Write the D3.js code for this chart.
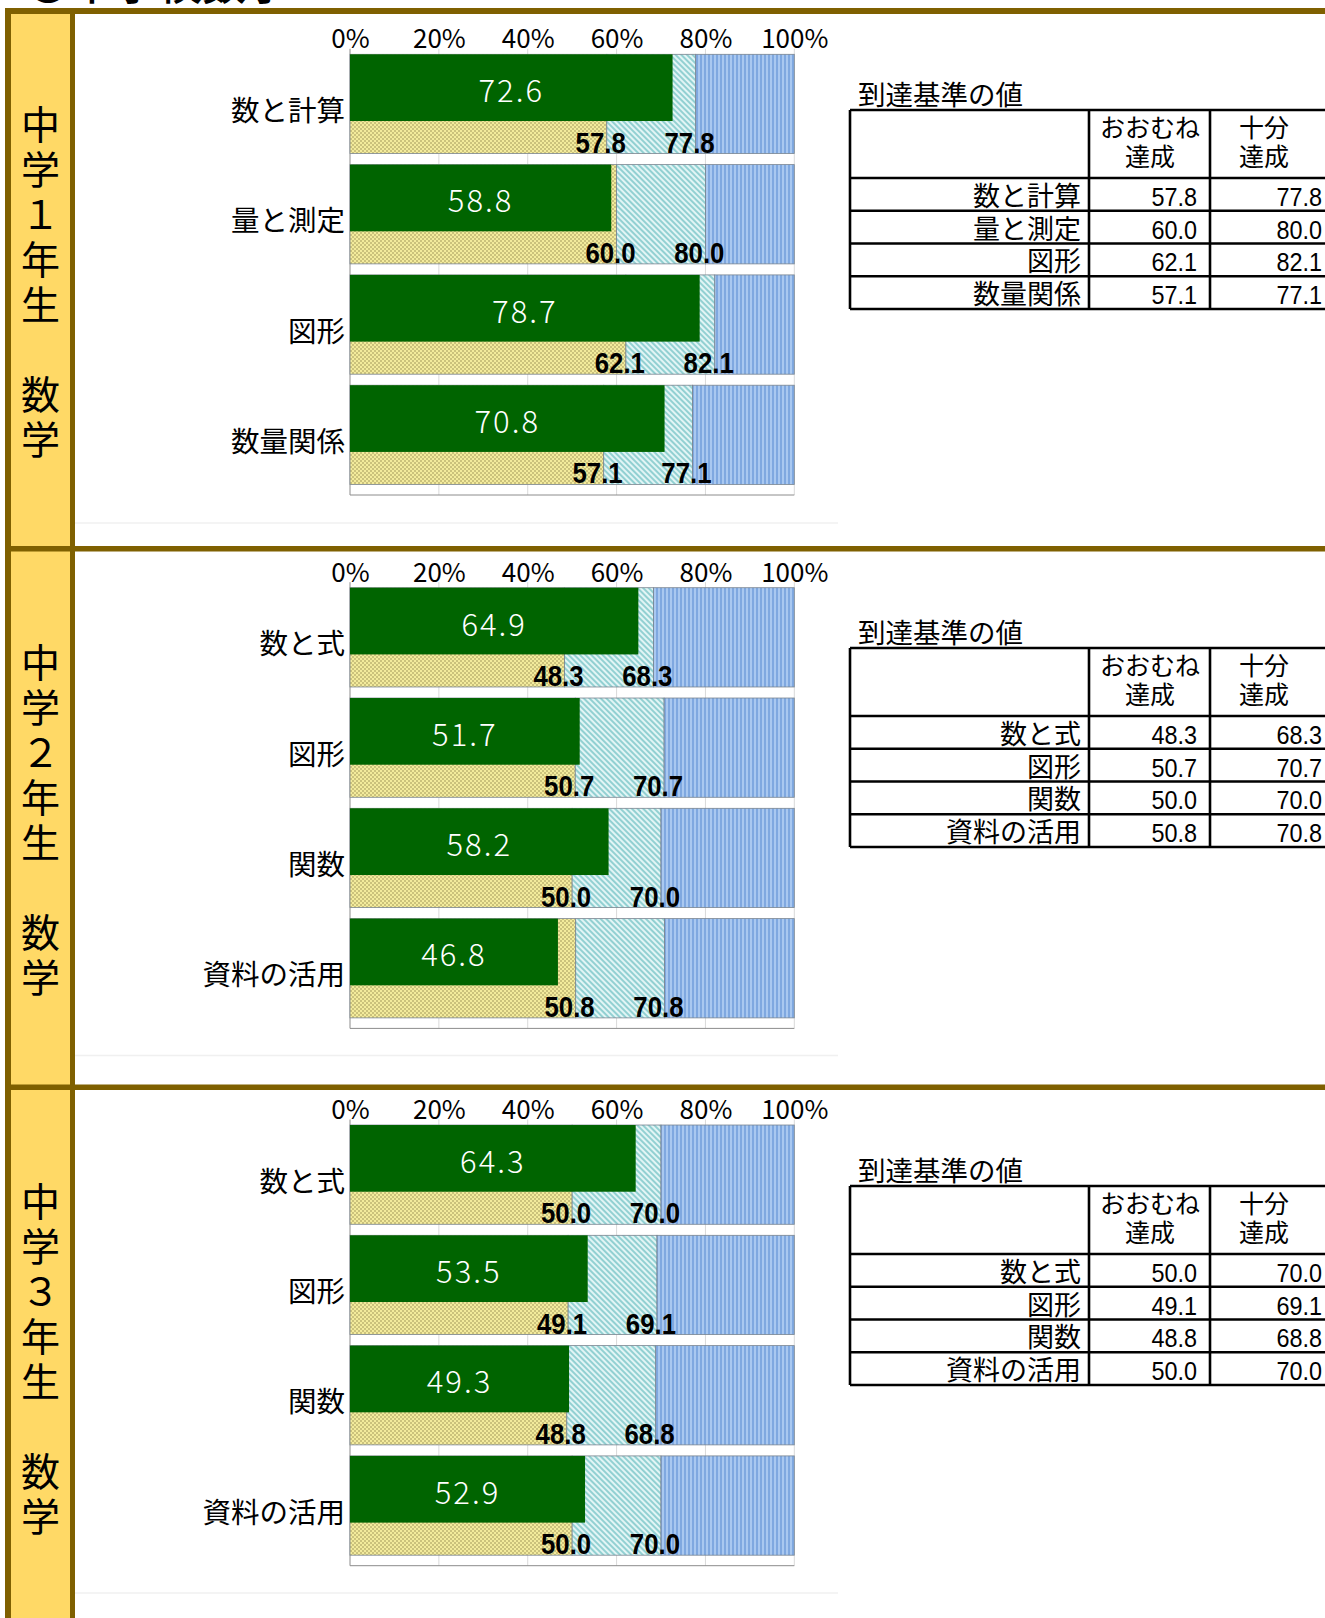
<!DOCTYPE html>
<html><head><meta charset="utf-8">
<script src="https://cdn.jsdelivr.net/npm/d3@7"></script>
<style>body{margin:0;background:#fff;overflow:hidden}</style>
</head><body><svg id="c"></svg>
<script>
// ---------- DATA ----------
const pageTitle = "●中学校数学";
const panelTitles = ["中学１年生　数学", "中学２年生　数学", "中学３年生　数学"];
const tableTitle = "到達基準の値";
const tableHead1 = ["おおむね", "達成"];
const tableHead2 = ["十分", "達成"];
const tickValues = [0, 20, 40, 60, 80, 100];
const tickLabels = ["0%", "20%", "40%", "60%", "80%", "100%"];

const categories1 = ["数と計算", "量と測定", "図形", "数量関係"];
const scores1     = [72.6, 58.8, 78.7, 70.8];
const basic1      = [57.8, 60.0, 62.1, 57.1];
const full1       = [77.8, 80.0, 82.1, 77.1];

const categories2 = ["数と式", "図形", "関数", "資料の活用"];
const scores2     = [64.9, 51.7, 58.2, 46.8];
const basic2      = [48.3, 50.7, 50.0, 50.8];
const full2       = [68.3, 70.7, 70.0, 70.8];

const categories3 = ["数と式", "図形", "関数", "資料の活用"];
const scores3     = [64.3, 53.5, 49.3, 52.9];
const basic3      = [50.0, 49.1, 48.8, 50.0];
const full3       = [70.0, 69.1, 68.8, 70.0];

const panels = [
  {title: panelTitles[0], cats: categories1, scores: scores1, basic: basic1, full: full1},
  {title: panelTitles[1], cats: categories2, scores: scores2, basic: basic2, full: full2},
  {title: panelTitles[2], cats: categories3, scores: scores3, basic: basic3, full: full3}
];

// ---------- LAYOUT ----------
const W = 1325, H = 1618;
const chartTops = [54.3, 587.7, 1125];
const tableTops = [110, 648, 1186];
const sideTops  = [121.7, 660.2, 1198.7];
const faintLines = [523, 1055.5, 1593];
const JP = "'Noto Sans CJK JP','Noto Sans',sans-serif";
const NUM = "'Liberation Sans',Arial,sans-serif";
const brown = "#7f6000", yellow = "#ffd966";

const svg = d3.select("#c").attr("width", W).attr("height", H)
  .attr("viewBox", `0 0 ${W} ${H}`).style("display","block");

// patterns
const defs = svg.append("defs");
const py = defs.append("pattern").attr("id","pY").attr("width",4).attr("height",4).attr("patternUnits","userSpaceOnUse");
py.append("rect").attr("width",4).attr("height",4).attr("fill","#f3eb9c");
py.append("rect").attr("width",2).attr("height",2).attr("fill","#cbc27c");
py.append("rect").attr("x",2).attr("y",2).attr("width",2).attr("height",2).attr("fill","#cbc27c");

const ph = defs.append("pattern").attr("id","pH").attr("width",4).attr("height",4)
  .attr("patternUnits","userSpaceOnUse").attr("patternTransform","rotate(45)");
ph.append("rect").attr("width",4).attr("height",4).attr("fill","#e2f5f5");
ph.append("rect").attr("width",4).attr("height",2).attr("fill","#92d0d2");

const pb = defs.append("pattern").attr("id","pB").attr("width",4).attr("height",4).attr("patternUnits","userSpaceOnUse");
pb.append("rect").attr("width",4).attr("height",4).attr("fill","#a9c8f0");
pb.append("rect").attr("width",2).attr("height",4).attr("fill","#7fa8e0");

// page title (mostly clipped above the frame)
svg.append("text").attr("x", 26).attr("y", 0).attr("font-family", JP).attr("font-size", 44)
  .attr("font-weight", 500).attr("fill", "#000").text(pageTitle);

// frame
svg.append("rect").attr("x", 11).attr("y", 14).attr("width", 59).attr("height", H).attr("fill", yellow);
svg.append("rect").attr("x", 5).attr("y", 8).attr("width", W).attr("height", 6).attr("fill", brown);
svg.append("rect").attr("x", 5).attr("y", 8).attr("width", 6).attr("height", H).attr("fill", brown);
svg.append("rect").attr("x", 70).attr("y", 8).attr("width", 5).attr("height", H).attr("fill", brown);
[546, 1084.5].forEach(y => svg.append("rect").attr("x", 5).attr("y", y).attr("width", W).attr("height", 5.5).attr("fill", brown));

const x = d3.scaleLinear().domain([0, 100]).range([350, 794.3]);

panels.forEach((p, pi) => {
  const g = svg.append("g");
  // faint image edge
  g.append("line").attr("x1", 75).attr("x2", 838).attr("y1", faintLines[pi]).attr("y2", faintLines[pi])
    .attr("stroke", "#f0f0f0").attr("stroke-width", 1.5);

  // side title
  const chars = Array.from(p.title);
  g.selectAll("text.side").data(chars).join("text")
    .attr("x", 40.5).attr("y", (d, i) => sideTops[pi] + i * 45)
    .attr("text-anchor", "middle").attr("dominant-baseline", "central")
    .attr("font-family", JP).attr("font-size", 39).attr("fill", "#000").text(d => d);

  const y0 = chartTops[pi] - 5.5;
  const yb = d3.scaleBand().domain(p.cats).range([y0, y0 + 441.2]).paddingInner(0.1).paddingOuter(0.05);
  const bottom = y0 + 446.2;
  const bw = yb.bandwidth();

  // gridlines
  g.selectAll("line.grid").data(tickValues.slice(1)).join("line")
    .attr("x1", d => x(d)).attr("x2", d => x(d)).attr("y1", y0).attr("y2", bottom)
    .attr("stroke", "#d9d9d9").attr("stroke-width", 1);
  // axes
  g.append("line").attr("x1", x(0)).attr("x2", x(0)).attr("y1", y0).attr("y2", bottom).attr("stroke", "#8c8c8c");
  g.append("line").attr("x1", x(0)).attr("x2", x(100)).attr("y1", bottom).attr("y2", bottom).attr("stroke", "#8c8c8c");

  // tick labels (top axis)
  const axis = d3.axisTop(x).tickValues(tickValues).tickFormat((d, i) => tickLabels[i]).tickSize(0).tickPadding(0);
  const ag = g.append("g").attr("transform", `translate(0,${chartTops[pi] - 6})`).call(axis);
  ag.select(".domain").remove();
  ag.selectAll("text").attr("font-family", JP).attr("font-size", 26).attr("fill", "#000").attr("dy", 0);

  p.cats.forEach((c, i) => {
    const top = yb(c);
    const segs = [[0, p.basic[i], "url(#pY)"], [p.basic[i], p.full[i], "url(#pH)"], [p.full[i], 100, "url(#pB)"]];
    g.selectAll(null).data(segs).join("rect")
      .attr("x", d => x(d[0])).attr("y", top).attr("width", d => x(d[1]) - x(d[0])).attr("height", bw)
      .attr("fill", d => d[2]).attr("stroke", "#7a8590").attr("stroke-width", 0.8);
    // score bar
    const gh = bw * 0.672;
    g.append("rect").attr("x", x(0)).attr("y", top).attr("width", x(p.scores[i]) - x(0)).attr("height", gh)
      .attr("fill", "#006400");
    g.append("text").attr("x", (x(0) + x(p.scores[i])) / 2).attr("y", top + gh / 2 + 1)
      .attr("text-anchor", "middle").attr("dominant-baseline", "central")
      .attr("font-family", JP).attr("font-weight", 300).attr("font-size", 31).attr("letter-spacing", 2).attr("fill", "#fff")
      .text(p.scores[i].toFixed(1));
    // level labels
    [p.basic[i], p.full[i]].forEach(v => {
      g.append("text").attr("transform", `translate(${x(v) + 19},${top + bw - 1})scale(0.86,1)`)
        .attr("text-anchor", "end")
        .attr("font-family", NUM).attr("font-weight", 700).attr("font-size", 30).attr("fill", "#000")
        .text(v.toFixed(1));
    });
    // category label
    g.append("text").attr("x", 345).attr("y", top + bw / 2 + 4.5).attr("text-anchor", "end")
      .attr("dominant-baseline", "central").attr("font-family", JP).attr("font-size", 28.5).attr("fill", "#000").text(c);
  });

  // table
  const T = tableTops[pi];
  const headH = 68, rowH = 32.75;
  const tx0 = 850, tc1 = 1089, tc2 = 1210, tx1 = W + 10;
  g.append("text").attr("x", 858).attr("y", T - 5).attr("font-family", JP).attr("font-size", 27.5).attr("fill", "#000").text(tableTitle);
  const tg = g.append("g").attr("stroke", "#000").attr("stroke-width", 2.6);
  const rowYs = [T, T + headH].concat(p.cats.map((c, i) => T + headH + rowH * (i + 1)));
  rowYs.forEach(yy => tg.append("line").attr("x1", tx0).attr("x2", tx1).attr("y1", yy).attr("y2", yy));
  const tb = T + headH + rowH * 4;
  [tx0, tc1, tc2].forEach(xx => tg.append("line").attr("x1", xx).attr("x2", xx).attr("y1", T).attr("y2", tb));
  tableHead1.forEach((t, k) => g.append("text").attr("x", 1150).attr("y", T + 26.5 + k * 29.5).attr("text-anchor", "middle")
    .attr("font-family", JP).attr("font-size", 25).attr("fill", "#000").text(t));
  tableHead2.forEach((t, k) => g.append("text").attr("x", 1264).attr("y", T + 26.5 + k * 29.5).attr("text-anchor", "middle")
    .attr("font-family", JP).attr("font-size", 25).attr("fill", "#000").text(t));
  p.cats.forEach((c, i) => {
    const by = T + headH + rowH * (i + 1) - 5;
    g.append("text").attr("x", 1081).attr("y", by).attr("text-anchor", "end")
      .attr("font-family", JP).attr("font-size", 27).attr("fill", "#000").text(c);
    g.append("text").attr("transform", `translate(1197,${by})scale(0.9,1)`).attr("text-anchor", "end")
      .attr("font-family", NUM).attr("font-size", 26).attr("fill", "#000").text(p.basic[i].toFixed(1));
    g.append("text").attr("transform", `translate(1322,${by})scale(0.9,1)`).attr("text-anchor", "end")
      .attr("font-family", NUM).attr("font-size", 26).attr("fill", "#000").text(p.full[i].toFixed(1));
  });
});
</script></body></html>
